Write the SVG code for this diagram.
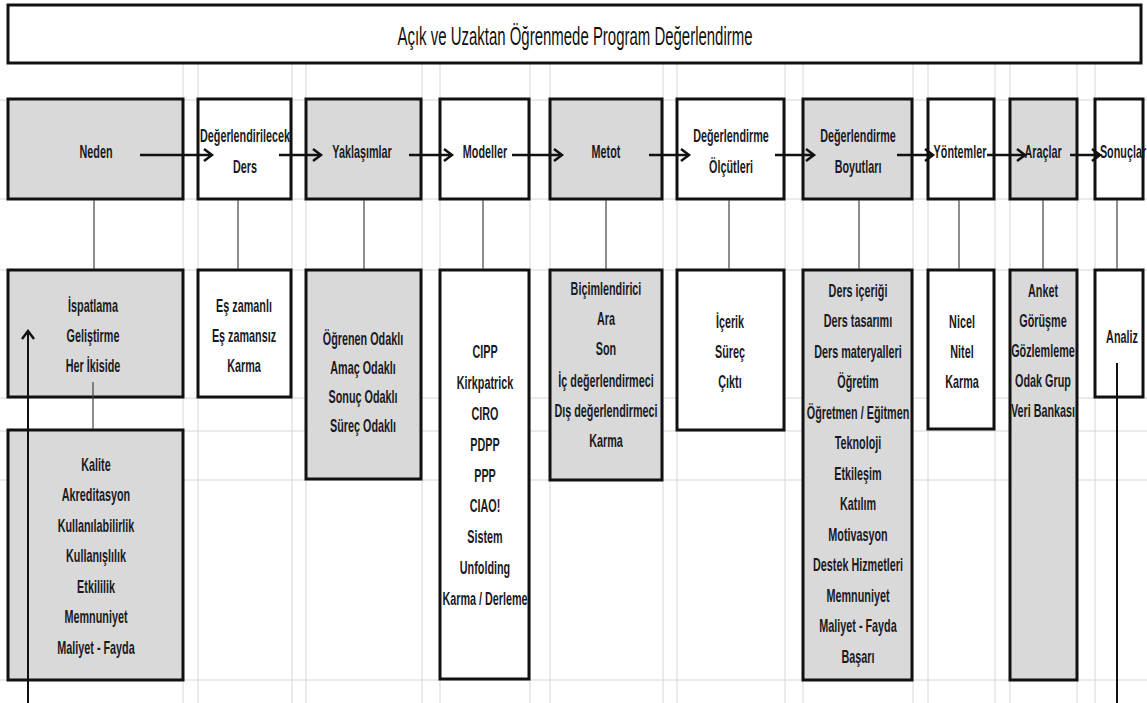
<svg xmlns="http://www.w3.org/2000/svg" width="1147" height="703" viewBox="0 0 1147 703">
<style>
.grid{stroke:#d6d6d6;stroke-width:1;fill:none}
.box{stroke:#111;stroke-width:3}
.g{fill:#d9d9d9}
.w{fill:#ffffff}
.t{font-family:"Liberation Sans",Arial,sans-serif;font-weight:bold;font-size:18px;fill:#1a1a24;text-anchor:middle}
.title{font-family:"Liberation Sans",Arial,sans-serif;font-size:26px;fill:#111;text-anchor:middle}
.thin{stroke:#444;stroke-width:1.2;fill:none}
.arr{stroke:#111;stroke-width:2.5;fill:none;marker-end:url(#chev)}
.thick{stroke:#111;stroke-width:2;fill:none}
</style>
<defs>
<marker id="chev" markerUnits="userSpaceOnUse" markerWidth="12" markerHeight="16" refX="9" refY="7" orient="auto">
<path d="M1,1 L9,7 L1,13" fill="none" stroke="#111" stroke-width="2.5"/>
</marker>
</defs>
<rect width="1147" height="703" fill="#ffffff"/>
<g id="grid" class="grid">
<path d="M183,63V703M198,63V703M292,63V703M306,63V703M422,63V703M440,63V703M530,63V703M550,63V703M663,63V703M677,63V703M785,63V703M803,63V703M913,63V703M928,63V703M995,63V703M1010,63V703M1077,63V703M1095,63V703"/>
<path d="M0,100H1147M0,199H1147M0,270H1147M0,398H1147M0,431H1147M0,480H1147M0,680H1147"/>
</g>
<g id="title">
<rect x="8" y="5" width="1133" height="58" class="box w"/>
<text x="575" y="45" class="title" textLength="355" lengthAdjust="spacingAndGlyphs">Açık ve Uzaktan Öğrenmede Program Değerlendirme</text>
</g>
<g id="n-neden"><rect x="8" y="99" width="175" height="100" class="box g"/>
<g transform="matrix(0.6 0 0 1 96 0)"><text class="t" x="0" y="158">Neden</text></g></g>
<g id="n-ders"><rect x="198" y="99" width="93" height="100" class="box w"/>
<g transform="matrix(0.6 0 0 1 245 0)"><text class="t" x="0" y="142">Değerlendirilecek</text><text class="t" x="0" y="173">Ders</text></g></g>
<g id="n-yaklasimlar"><rect x="306" y="99" width="115" height="100" class="box g"/>
<g transform="matrix(0.6 0 0 1 362 0)"><text class="t" x="0" y="158">Yaklaşımlar</text></g></g>
<g id="n-modeller"><rect x="440" y="99" width="89" height="100" class="box w"/>
<g transform="matrix(0.6 0 0 1 485 0)"><text class="t" x="0" y="158">Modeller</text></g></g>
<g id="n-metot"><rect x="550" y="99" width="112" height="100" class="box g"/>
<g transform="matrix(0.6 0 0 1 606 0)"><text class="t" x="0" y="158">Metot</text></g></g>
<g id="n-olcutler"><rect x="677" y="99" width="107" height="100" class="box w"/>
<g transform="matrix(0.6 0 0 1 731 0)"><text class="t" x="0" y="142">Değerlendirme</text><text class="t" x="0" y="173">Ölçütleri</text></g></g>
<g id="n-boyutlar"><rect x="803" y="99" width="109" height="100" class="box g"/>
<g transform="matrix(0.6 0 0 1 858 0)"><text class="t" x="0" y="142">Değerlendirme</text><text class="t" x="0" y="173">Boyutları</text></g></g>
<g id="n-yontemler"><rect x="928" y="99" width="66" height="100" class="box w"/>
<g transform="matrix(0.6 0 0 1 960 0)"><text class="t" x="0" y="158">Yöntemler</text></g></g>
<g id="n-araclar"><rect x="1010" y="99" width="67" height="100" class="box g"/>
<g transform="matrix(0.6 0 0 1 1043 0)"><text class="t" x="0" y="158">Araçlar</text></g></g>
<g id="n-sonuclar"><rect x="1095" y="99" width="48" height="100" class="box w"/>
<g transform="matrix(0.6 0 0 1 1123 0)"><text class="t" x="0" y="158">Sonuçlar</text></g></g>
<g id="b-ispatlama"><rect x="8" y="270" width="175" height="127" class="box g"/>
<g transform="matrix(0.6 0 0 1 93 0)"><text class="t" x="0" y="312">İspatlama</text><text class="t" x="0" y="342">Geliştirme</text><text class="t" x="0" y="372">Her İkiside</text></g></g>
<g id="b-kalite"><rect x="8" y="430" width="175" height="250" class="box g"/>
<g transform="matrix(0.6 0 0 1 96 0)"><text class="t" x="0" y="471">Kalite</text><text class="t" x="0" y="501">Akreditasyon</text><text class="t" x="0" y="532">Kullanılabilirlik</text><text class="t" x="0" y="562">Kullanışlılık</text><text class="t" x="0" y="593">Etkililik</text><text class="t" x="0" y="623">Memnuniyet</text><text class="t" x="0" y="654">Maliyet - Fayda</text></g></g>
<g id="b-eszamanli"><rect x="198" y="270" width="93" height="127" class="box w"/>
<g transform="matrix(0.6 0 0 1 244 0)"><text class="t" x="0" y="312">Eş zamanlı</text><text class="t" x="0" y="342">Eş zamansız</text><text class="t" x="0" y="372">Karma</text></g></g>
<g id="b-odakli"><rect x="306" y="270" width="115" height="209" class="box g"/>
<g transform="matrix(0.6 0 0 1 363 0)"><text class="t" x="0" y="345">Öğrenen Odaklı</text><text class="t" x="0" y="374">Amaç Odaklı</text><text class="t" x="0" y="403">Sonuç Odaklı</text><text class="t" x="0" y="432">Süreç Odaklı</text></g></g>
<g id="b-modeller"><rect x="440" y="270" width="89" height="409" class="box w"/>
<g transform="matrix(0.6 0 0 1 485 0)"><text class="t" x="0" y="358">CIPP</text><text class="t" x="0" y="389">Kirkpatrick</text><text class="t" x="0" y="420">CIRO</text><text class="t" x="0" y="451">PDPP</text><text class="t" x="0" y="482">PPP</text><text class="t" x="0" y="512">CIAO!</text><text class="t" x="0" y="543">Sistem</text><text class="t" x="0" y="574">Unfolding</text><text class="t" x="0" y="605">Karma / Derleme</text></g></g>
<g id="b-metot"><rect x="550" y="270" width="112" height="210" class="box g"/>
<g transform="matrix(0.6 0 0 1 606 0)"><text class="t" x="0" y="295">Biçimlendirici</text><text class="t" x="0" y="325">Ara</text><text class="t" x="0" y="355">Son</text><text class="t" x="0" y="387">İç değerlendirmeci</text><text class="t" x="0" y="417">Dış değerlendirmeci</text><text class="t" x="0" y="447">Karma</text></g></g>
<g id="b-icerik"><rect x="677" y="270" width="107" height="160" class="box w"/>
<g transform="matrix(0.6 0 0 1 730 0)"><text class="t" x="0" y="328">İçerik</text><text class="t" x="0" y="358">Süreç</text><text class="t" x="0" y="388">Çıktı</text></g></g>
<g id="b-boyutlar"><rect x="803" y="270" width="109" height="410" class="box g"/>
<g transform="matrix(0.6 0 0 1 858 0)"><text class="t" x="0" y="297">Ders içeriği</text><text class="t" x="0" y="327">Ders tasarımı</text><text class="t" x="0" y="358">Ders materyalleri</text><text class="t" x="0" y="388">Öğretim</text><text class="t" x="0" y="419">Öğretmen / Eğitmen</text><text class="t" x="0" y="449">Teknoloji</text><text class="t" x="0" y="480">Etkileşim</text><text class="t" x="0" y="510">Katılım</text><text class="t" x="0" y="541">Motivasyon</text><text class="t" x="0" y="571">Destek Hizmetleri</text><text class="t" x="0" y="602">Memnuniyet</text><text class="t" x="0" y="632">Maliyet - Fayda</text><text class="t" x="0" y="663">Başarı</text></g></g>
<g id="b-nicel"><rect x="928" y="270" width="66" height="159" class="box w"/>
<g transform="matrix(0.6 0 0 1 962 0)"><text class="t" x="0" y="328">Nicel</text><text class="t" x="0" y="358">Nitel</text><text class="t" x="0" y="388">Karma</text></g></g>
<g id="b-araclar"><rect x="1010" y="270" width="67" height="410" class="box g"/>
<g transform="matrix(0.6 0 0 1 1043 0)"><text class="t" x="0" y="297">Anket</text><text class="t" x="0" y="327">Görüşme</text><text class="t" x="0" y="357">Gözlemleme</text><text class="t" x="0" y="387">Odak Grup</text><text class="t" x="0" y="417">Veri Bankası</text></g></g>
<g id="b-analiz"><rect x="1095" y="270" width="48" height="127" class="box w"/>
<g transform="matrix(0.6 0 0 1 1122 0)"><text class="t" x="0" y="343">Analiz</text></g></g>
<g id="connectors">
<path class="thin" d="M94,200V269M238,200V269M364,200V269M483,200V269M606,200V269M729,200V269M859,200V269M959,200V269M1043,200V269M1117,200V269M93,382V429"/>
<path class="arr" d="M140,155H212"/>
<path class="arr" d="M279,155H321"/>
<path class="arr" d="M409,155H452"/>
<path class="arr" d="M512,155H562"/>
<path class="arr" d="M649,155H689"/>
<path class="arr" d="M775,155H814"/>
<path class="arr" d="M897,155H933"/>
<path class="arr" d="M987,155H1025"/>
<path class="arr" d="M1070,155H1100"/>
<path class="thick" d="M1117,363V703"/>
<path class="thick" d="M28,703V331" marker-end="url(#chev)"/>
</g>
</svg>
